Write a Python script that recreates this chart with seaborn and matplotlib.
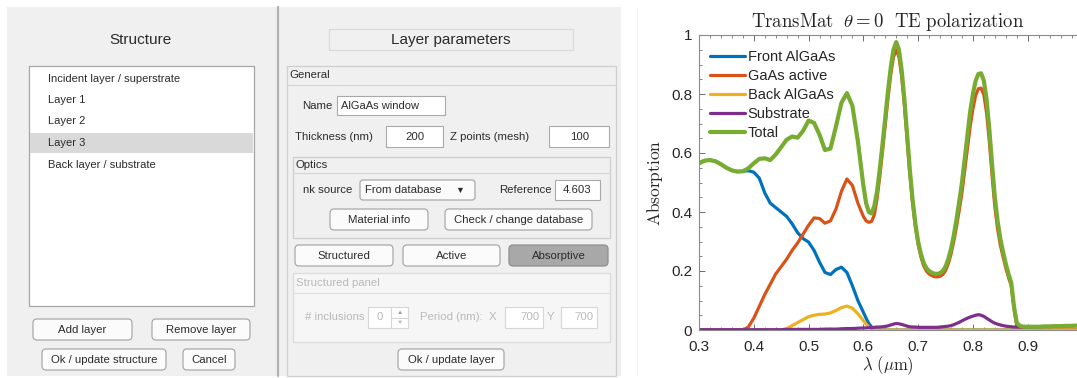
import pandas as pd
import seaborn as sns
import matplotlib.pyplot as plt
from matplotlib.patches import Rectangle, FancyBboxPatch
from matplotlib.ticker import MultipleLocator

sns.set_theme(style='ticks')
plt.rcParams['font.family'] = ['Liberation Sans', 'DejaVu Sans']
plt.rcParams['mathtext.fontset'] = 'cm'

# ---------------- data ----------------
wavelength = [
    0.30, 0.31, 0.32, 0.33, 0.34, 0.35, 0.36, 0.37, 0.38, 0.39, 0.40,
    0.41, 0.42, 0.43, 0.44, 0.45, 0.46, 0.47, 0.48, 0.49, 0.50, 0.51,
    0.52, 0.53, 0.54, 0.55, 0.56, 0.57, 0.58, 0.59, 0.60,
    0.605, 0.61, 0.615, 0.62, 0.625, 0.63, 0.635, 0.64, 0.645, 0.65,
    0.655, 0.66, 0.665, 0.67, 0.675, 0.68, 0.685, 0.69, 0.695, 0.70,
    0.705, 0.71, 0.715, 0.72, 0.725, 0.73, 0.735, 0.74, 0.745, 0.75,
    0.755, 0.76, 0.765, 0.77, 0.775, 0.78, 0.785, 0.79, 0.795, 0.80,
    0.805, 0.81, 0.815, 0.82, 0.825, 0.83, 0.835, 0.84, 0.845, 0.85,
    0.855, 0.86, 0.865, 0.87, 0.875, 0.88, 0.885, 0.89, 0.895, 0.90,
    0.91, 0.92, 0.93, 0.94, 0.95, 0.96, 0.97, 0.98, 0.99,
]
front_algaas = [
    0.565, 0.574, 0.576, 0.572, 0.562, 0.550, 0.541, 0.537, 0.538, 0.540, 0.535,
    0.515, 0.465, 0.430, 0.415, 0.400, 0.385, 0.360, 0.330, 0.310, 0.298, 0.270,
    0.230, 0.195, 0.188, 0.205, 0.213, 0.195, 0.150, 0.100, 0.060,
    0.040, 0.022, 0.010, 0.003, 0.001, 0, 0, 0, 0, 0,
    0, 0, 0, 0, 0, 0, 0, 0, 0, 0,
    0, 0, 0, 0, 0, 0, 0, 0, 0, 0,
    0, 0, 0, 0, 0, 0, 0, 0, 0, 0,
    0, 0, 0, 0, 0, 0, 0, 0, 0, 0,
    0, 0, 0, 0, 0, 0, 0, 0, 0, 0,
    0, 0, 0, 0, 0, 0, 0, 0, 0,
]
gaas_active = [
    0, 0, 0, 0, 0, 0, 0, 0, 0, 0.010, 0.040,
    0.080, 0.120, 0.155, 0.190, 0.215, 0.240, 0.270, 0.295, 0.325, 0.355, 0.380,
    0.378, 0.362, 0.370, 0.410, 0.470, 0.512, 0.490, 0.430, 0.385,
    0.370, 0.365, 0.368, 0.390, 0.445, 0.520, 0.605, 0.695, 0.785, 0.865,
    0.925, 0.950, 0.925, 0.858, 0.760, 0.643, 0.525, 0.427, 0.349, 0.290,
    0.248, 0.218, 0.200, 0.190, 0.184, 0.181, 0.180, 0.182, 0.188, 0.201,
    0.224, 0.257, 0.299, 0.350, 0.405, 0.465, 0.540, 0.615, 0.690, 0.750,
    0.795, 0.818, 0.820, 0.797, 0.735, 0.638, 0.522, 0.418, 0.343, 0.288,
    0.248, 0.210, 0.178, 0.150, 0.072, 0.015, 0.004, 0.001, 0, 0,
    0, 0, 0, 0, 0, 0, 0, 0, 0,
]
back_algaas = [
    0, 0, 0, 0, 0, 0, 0, 0, 0, 0, 0,
    0, 0, 0, 0, 0, 0.005, 0.015, 0.025, 0.035, 0.045, 0.050,
    0.053, 0.054, 0.058, 0.066, 0.076, 0.081, 0.074, 0.055, 0.032,
    0.020, 0.010, 0.004, 0.001, 0, 0, 0, 0, 0, 0,
    0, 0, 0, 0, 0, 0, 0, 0, 0, 0,
    0, 0, 0, 0, 0, 0, 0, 0, 0, 0,
    0, 0, 0, 0, 0, 0, 0, 0, 0, 0,
    0, 0, 0, 0, 0, 0, 0, 0, 0, 0,
    0, 0, 0, 0, 0, 0, 0, 0, 0, 0,
    0, 0, 0, 0, 0, 0, 0, 0, 0,
]
substrate = [
    0.001, 0.001, 0.001, 0.001, 0.001, 0.001, 0.001, 0.001, 0.001, 0.001, 0.001,
    0.001, 0.001, 0.001, 0.001, 0.001, 0.002, 0.002, 0.002, 0.002, 0.002, 0.002,
    0.002, 0.003, 0.003, 0.003, 0.004, 0.005, 0.005, 0.006, 0.007,
    0.007, 0.008, 0.008, 0.009, 0.010, 0.010, 0.011, 0.012, 0.014, 0.017,
    0.020, 0.022, 0.021, 0.019, 0.016, 0.013, 0.011, 0.010, 0.010, 0.009,
    0.009, 0.009, 0.009, 0.009, 0.009, 0.009, 0.009, 0.010, 0.011, 0.012,
    0.013, 0.015, 0.018, 0.022, 0.026, 0.031, 0.036, 0.040, 0.044, 0.047,
    0.050, 0.052, 0.050, 0.046, 0.040, 0.034, 0.028, 0.023, 0.020, 0.017,
    0.015, 0.013, 0.012, 0.011, 0.010, 0.010, 0.010, 0.010, 0.010, 0.010,
    0.011, 0.011, 0.012, 0.012, 0.013, 0.013, 0.014, 0.014, 0.015,
]
total = [
    0.565, 0.574, 0.576, 0.572, 0.562, 0.550, 0.541, 0.537, 0.538, 0.548, 0.565,
    0.580, 0.582, 0.576, 0.595, 0.620, 0.645, 0.656, 0.652, 0.675, 0.710, 0.702,
    0.662, 0.610, 0.615, 0.690, 0.770, 0.803, 0.760, 0.640, 0.490,
    0.430, 0.400, 0.395, 0.420, 0.470, 0.545, 0.630, 0.720, 0.810, 0.890,
    0.950, 0.976, 0.950, 0.880, 0.780, 0.660, 0.540, 0.440, 0.360, 0.300,
    0.258, 0.228, 0.210, 0.200, 0.194, 0.191, 0.190, 0.193, 0.200, 0.215,
    0.240, 0.275, 0.320, 0.375, 0.435, 0.500, 0.580, 0.660, 0.740, 0.800,
    0.845, 0.868, 0.870, 0.845, 0.780, 0.680, 0.560, 0.450, 0.370, 0.310,
    0.265, 0.225, 0.190, 0.160, 0.080, 0.025, 0.015, 0.012, 0.011, 0.011,
    0.011, 0.011, 0.012, 0.012, 0.013, 0.013, 0.014, 0.014, 0.015,
]
series_names = ['Front AlGaAs', 'GaAs active', 'Back AlGaAs', 'Substrate', 'Total']
series_values = [front_algaas, gaas_active, back_algaas, substrate, total]
series_colors = ['#0072BD', '#D95319', '#EDB120', '#7E2F8E', '#77AC30']
series_widths = [2.3, 2.3, 2.3, 2.3, 3.0]

df = pd.concat(
    [pd.DataFrame({'wavelength': wavelength, 'absorption': vals, 'layer': name})
     for name, vals in zip(series_names, series_values)],
    ignore_index=True,
)

fig = plt.figure(figsize=(10.77, 3.78), dpi=100)
fig.patch.set_facecolor('white')

# ---------------- GUI screenshot part (pixel coordinates) ----------------
gui = fig.add_axes([0, 0, 640 / 1077, 1])
gui.set_xlim(0, 640)
gui.set_ylim(378, 0)
gui.axis('off')

TXT = '#2b2b2b'
DIS = '#b9b9b9'


def rect(x0, y0, x1, y1, fc='none', ec='#b0b0b0', lw=0.8, z=1):
    gui.add_patch(Rectangle((x0, y0), x1 - x0, y1 - y0, fc=fc, ec=ec, lw=lw, zorder=z))


def button(label, x0, y0, x1, y1, fc='#fbfbfb', ec='#a9a9a9', size=8.2, weight='normal'):
    gui.add_patch(FancyBboxPatch((x0, y0), x1 - x0, y1 - y0,
                                 boxstyle='round,pad=0,rounding_size=4',
                                 fc=fc, ec=ec, lw=0.9, zorder=3))
    gui.text((x0 + x1) / 2, (y0 + y1) / 2 + 0.5, label, ha='center', va='center',
             fontsize=size, color=TXT, weight=weight, zorder=4)


def label(x, y, s, ha='left', size=8.2, color=TXT):
    gui.text(x, y, s, ha=ha, va='center', fontsize=size, color=color, zorder=5)


rect(7, 7, 621, 376, fc='#f0f0f0', ec='none', z=0)
gui.plot([278, 278], [7, 376], color='#b2b2b2', lw=1.6, zorder=1)
gui.plot([637, 637], [7, 376], color='#f2f2f2', lw=0.8, zorder=1)

# left: structure list
label(140, 40, 'Structure', ha='center', size=11)
rect(29, 66, 254, 306, fc='white', ec='#a6a6a6', lw=0.9)
rect(30, 133, 253, 153, fc='#d9d9d9', ec='none', z=2)
layer_items = ['Incident layer / superstrate', 'Layer 1', 'Layer 2', 'Layer 3',
               'Back layer / substrate']
for item, yy in zip(layer_items, [79, 100, 121, 143, 165]):
    label(48, yy, item, size=8)
button('Add layer', 33, 319, 132, 340)
button('Remove layer', 152, 319, 250, 340)
button('Ok / update structure', 42, 349, 166, 370)
button('Cancel', 183, 349, 235, 370)

# right: layer parameters
rect(329, 29, 573, 50, fc='#f0f0f0', ec='#dadada', lw=0.9)
label(451, 40, 'Layer parameters', ha='center', size=11)

rect(287, 66, 616, 376, ec='#cfcfcf', lw=0.9)
gui.plot([287, 616], [85, 85], color='#d6d6d6', lw=0.9)
label(289, 75, 'General')

label(333, 106, 'Name', ha='right')
rect(337, 96, 445, 115, fc='white', ec='#a9a9a9')
label(341, 106, 'AlGaAs window', size=8)

label(295, 137, 'Thickness (nm)')
rect(386, 126, 443, 147, fc='white', ec='#a9a9a9')
label(415, 137, '200', ha='center')
label(450, 137, 'Z points (mesh)')
rect(549, 126, 609, 147, fc='white', ec='#a9a9a9')
label(580, 137, '100', ha='center')

rect(293, 157, 610, 238, ec='#cfcfcf', lw=0.9)
gui.plot([293, 610], [173, 173], color='#d6d6d6', lw=0.9)
label(296, 165, 'Optics')
label(303, 190, 'nk source')
gui.add_patch(FancyBboxPatch((360, 180), 115, 20, boxstyle='round,pad=0,rounding_size=3',
                             fc='#fbfbfb', ec='#a9a9a9', lw=0.9, zorder=3))
label(365, 190, 'From database')
label(455, 190, '\u25bc', size=6.5)
label(552, 190, 'Reference', ha='right')
rect(555, 180, 600, 200, fc='white', ec='#a9a9a9')
label(577, 190, '4.603', ha='center')
button('Material info', 330, 209, 428, 230)
button('Check / change database', 445, 209, 592, 230)

button('Structured', 295, 245, 393, 266)
button('Active', 403, 245, 500, 266)
button('Absorptive', 509, 245, 608, 266, fc='#a8a8a8', ec='#8e8e8e')

rect(293, 273, 610, 342, fc='#f6f6f6', ec='#dcdcdc', lw=0.9)
gui.plot([293, 610], [293, 293], color='#e2e2e2', lw=0.9)
label(296, 283, 'Structured panel', color=DIS)
label(305, 317, '# inclusions', color=DIS)
rect(368, 307, 408, 328, fc='white', ec='#d6d6d6')
gui.plot([391, 391], [307, 328], color='#d6d6d6', lw=0.8)
gui.plot([391, 408], [317.5, 317.5], color='#d6d6d6', lw=0.8)
label(380, 317, '0', ha='center', color=DIS)
label(399.5, 312.5, '\u25b2', ha='center', size=4.5, color='#9a9a9a')
label(399.5, 322.5, '\u25bc', ha='center', size=4.5, color=DIS)
label(420, 317, 'Period (nm):  X', color=DIS)
rect(505, 307, 543, 328, fc='white', ec='#d6d6d6')
label(540, 317, '700', ha='right', color=DIS)
label(551, 317, 'Y', ha='center', color=DIS)
rect(561, 307, 597, 328, fc='white', ec='#d6d6d6')
label(594, 317, '700', ha='right', color=DIS)
button('Ok / update layer', 398, 349, 504, 370)

# ---------------- absorption chart ----------------
ax = fig.add_axes([699 / 1077, 48 / 378, 378 / 1077, 295 / 378])
for name, color, lw in zip(series_names, series_colors, series_widths):
    sns.lineplot(data=df[df.layer == name], x='wavelength', y='absorption',
                 color=color, linewidth=lw, label=name, ax=ax, sort=False)

ax.set_xlim(0.3, 0.99)
ax.set_ylim(0, 1)
ax.xaxis.set_major_locator(MultipleLocator(0.1))
ax.xaxis.set_minor_locator(MultipleLocator(0.02))
ax.yaxis.set_major_locator(MultipleLocator(0.2))
ax.yaxis.set_minor_locator(MultipleLocator(0.05))
ax.set_xticks([0.3, 0.4, 0.5, 0.6, 0.7, 0.8, 0.9])
ax.set_xticklabels(['0.3', '0.4', '0.5', '0.6', '0.7', '0.8', '0.9'])
ax.set_yticks([0, 0.2, 0.4, 0.6, 0.8, 1])
ax.set_yticklabels(['0', '0.2', '0.4', '0.6', '0.8', '1'])
ax.tick_params(which='both', direction='in', top=True, right=False,
               colors='#555555', labelcolor='#262626', labelsize=11)
ax.tick_params(which='major', length=4, width=0.6)
ax.tick_params(axis='y', which='major', pad=5)
ax.tick_params(axis='x', which='major', pad=7.5)
ax.tick_params(which='minor', length=2, width=0.5)
for side in ['left', 'top', 'bottom']:
    ax.spines[side].set_color('#8a8a8a')
    ax.spines[side].set_linewidth(0.8)
ax.spines['right'].set_visible(False)

ax.set_title(r'$\mathrm{TransMat}\ \ \theta = 0\ \ \mathrm{TE\ polarization}$',
             fontsize=13.5, pad=6, color='#262626')
ax.set_ylabel(r'$\mathrm{Absorption}$', fontsize=12.5, labelpad=4, color='#262626')
ax.set_xlabel(r'$\lambda\ (\mu\mathrm{m})$', fontsize=12, labelpad=0, color='#262626')

ax.legend(loc='upper left', bbox_to_anchor=(0.03, 0.95), frameon=False,
          fontsize=10.5, handlelength=2.4, handletextpad=0.15, labelspacing=0.35,
          borderaxespad=0, borderpad=0)

fig.savefig('out.png', dpi=100)
